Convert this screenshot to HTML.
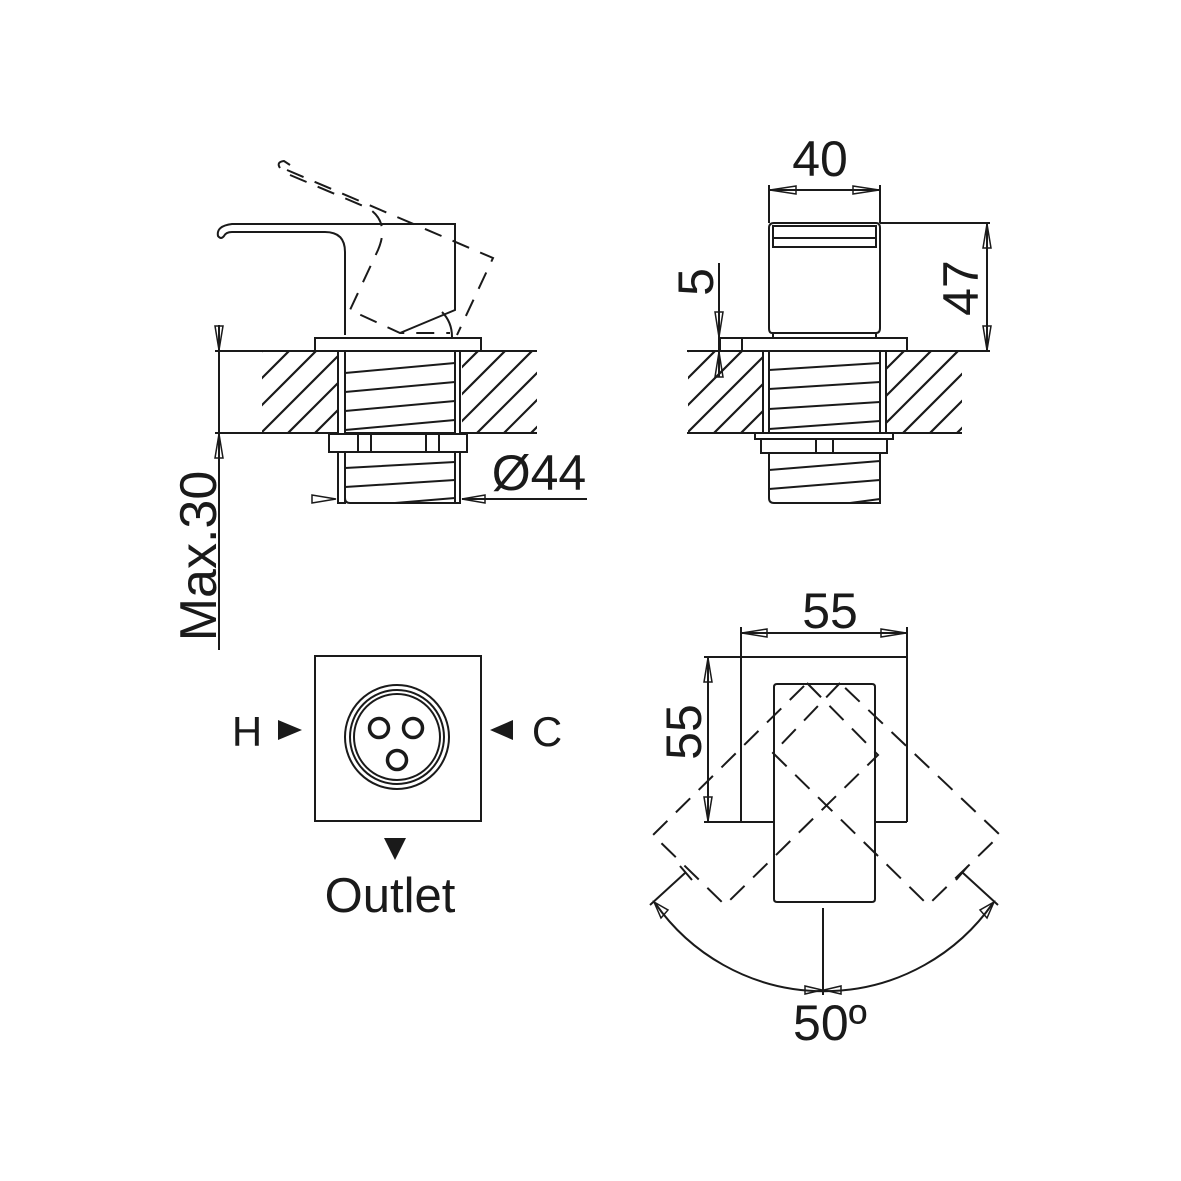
<!DOCTYPE html>
<html><head><meta charset="utf-8"><style>
html,body{margin:0;padding:0;background:#fff}
svg{display:block}
text{font-family:"Liberation Sans",sans-serif;fill:#1a1a1a}
</style></head><body>
<svg width="1181" height="1181" viewBox="0 0 1181 1181" xmlns="http://www.w3.org/2000/svg">
<defs>
<clipPath id="c1"><rect x="262" y="352" width="75" height="80"/><rect x="462" y="352" width="75" height="80"/></clipPath>
<clipPath id="c2"><rect x="688" y="352" width="75" height="80"/><rect x="887" y="352" width="75" height="80"/></clipPath>
</defs>
<g fill="none" stroke="#1a1a1a" stroke-width="2">
<!-- hatching -->
<g clip-path="url(#c1)" stroke-width="2.2">
<path d="M180 433 L262 351 M207 433 L289 351 M234 433 L316 351 M261 433 L343 351 M288 433 L370 351 M315 433 L397 351 M342 433 L424 351 M369 433 L451 351 M396 433 L478 351 M423 433 L505 351 M450 433 L532 351 M477 433 L559 351 M504 433 L586 351 M531 433 L613 351"/>
</g>
<g clip-path="url(#c2)" stroke-width="2.2">
<path d="M606 433 L688 351 M633 433 L715 351 M660 433 L742 351 M687 433 L769 351 M714 433 L796 351 M741 433 L823 351 M768 433 L850 351 M795 433 L877 351 M822 433 L904 351 M849 433 L931 351 M876 433 L958 351 M903 433 L985 351 M930 433 L1012 351 M957 433 L1039 351"/>
</g>
<!-- ===== TOP LEFT VIEW ===== -->
<line x1="215" y1="351" x2="537" y2="351"/>
<line x1="215" y1="433" x2="537" y2="433"/>
<rect x="315" y="338" width="166" height="13" fill="#fff"/>
<rect x="338" y="351" width="7" height="152" fill="#fff"/>
<rect x="455" y="351" width="5" height="152" fill="#fff"/>
<path d="M345 373 L455 363 M345 392 L455 382 M345 411 L455 401 M345 430 L455 420"/>
<rect x="329" y="434" width="138" height="18" fill="#fff"/>
<path d="M358 434 V452 M371 434 V452 M426 434 V452 M439 434 V452"/>
<path d="M345 452 V498 Q345 503 350 503 H455 M345 468 L455 462 M345 487 L455 480 M395 503 L455 498"/>
<!-- handle -->
<path d="M345 335 V252 Q345 232 325 232 H232 Q226 232 224 236 Q221 240 218 236 Q216 226 232 224 H455 V310 L400 333"/>
<!-- dashed handle -->
<g stroke-dasharray="18,12">
<path d="M287 170 L493 258 L457 335"/>
<path d="M290 175 L368 208 Q390 222 378 250 L350 310 L400 333 L450 333"/>
</g>
<path d="M280 168 Q276 162 284 161 L290 165"/>
<path d="M442 312 Q452 322 452 337"/>
<!-- Max.30 -->
<line x1="219" y1="325" x2="219" y2="650"/>
<path d="M215 326 L223 326 L219 350 Z" stroke-width="1.5"/>
<path d="M215 458 L223 458 L219 434 Z" stroke-width="1.5"/>
<!-- Ø44 -->
<line x1="462" y1="499" x2="587" y2="499"/>
<path d="M312 495 L312 503 L336 499 Z" stroke-width="1.5"/>
<path d="M485 495 L485 503 L462 499 Z" stroke-width="1.5"/>
<!-- ===== TOP RIGHT VIEW ===== -->
<line x1="687" y1="351" x2="962" y2="351"/>
<line x1="687" y1="433" x2="962" y2="433"/>
<rect x="720" y="338" width="187" height="13" fill="#fff"/>
<line x1="742" y1="338" x2="742" y2="351"/>
<rect x="763" y="351" width="6" height="82" fill="#fff"/>
<rect x="880" y="351" width="6" height="82" fill="#fff"/>
<path d="M769 370 L880 363 M769 389 L880 382 M769 409 L880 402 M769 429 L880 421"/>
<rect x="755" y="433" width="138" height="6" fill="#fff"/>
<rect x="761" y="439" width="126" height="14" fill="#fff"/>
<path d="M816 439 V453 M833 439 V453"/>
<path d="M769 453 V498 Q769 503 774 503 H880 V453 M769 470 L880 461 M769 489 L880 480 M850 503 L880 499"/>
<path d="M772 333 Q769 333 769 328 V228 Q769 223 774 223 H876 Q880 223 880 228 V328 Q880 333 876 333 Z"/>
<rect x="773" y="226" width="103" height="21"/>
<line x1="773" y1="238" x2="876" y2="238"/>
<path d="M773 333 V338 M876 333 V338"/>
<!-- 40 -->
<line x1="769" y1="185" x2="769" y2="223"/>
<line x1="880" y1="185" x2="880" y2="223"/>
<line x1="769" y1="190" x2="880" y2="190"/>
<path d="M770 190 L796 186 L796 194 Z" stroke-width="1.5"/>
<path d="M879 190 L853 186 L853 194 Z" stroke-width="1.5"/>
<!-- 47 -->
<line x1="880" y1="223" x2="990" y2="223"/>
<line x1="962" y1="351" x2="990" y2="351"/>
<line x1="987" y1="223" x2="987" y2="351"/>
<path d="M987 224 L983 248 L991 248 Z" stroke-width="1.5"/>
<path d="M987 350 L983 326 L991 326 Z" stroke-width="1.5"/>
<!-- 5 -->
<line x1="719" y1="263" x2="719" y2="377"/>
<line x1="719" y1="338" x2="742" y2="338"/>
<path d="M715 312 L723 312 L719 337 Z" stroke-width="1.5"/>
<path d="M715 377 L723 377 L719 352 Z" stroke-width="1.5"/>
<!-- ===== BOTTOM LEFT ===== -->
<rect x="315" y="656" width="166" height="165"/>
<circle cx="397" cy="737" r="52"/>
<circle cx="397" cy="737" r="47"/>
<circle cx="397" cy="737" r="43"/>
<circle cx="379" cy="728" r="9.5" stroke-width="3.5"/>
<circle cx="413" cy="728" r="9.5" stroke-width="3.5"/>
<circle cx="397" cy="760" r="9.5" stroke-width="3.5"/>
<!-- ===== BOTTOM RIGHT ===== -->
<line x1="741" y1="627" x2="741" y2="822"/>
<line x1="907" y1="627" x2="907" y2="822"/>
<line x1="741" y1="633" x2="907" y2="633"/>
<path d="M742 633 L767 629 L767 637 Z" stroke-width="1.5"/>
<path d="M906 633 L881 629 L881 637 Z" stroke-width="1.5"/>
<line x1="704" y1="657" x2="907" y2="657"/>
<path d="M704 822 H774 M875 822 H907"/>
<line x1="708" y1="657" x2="708" y2="822"/>
<path d="M708 658 L704 682 L712 682 Z" stroke-width="1.5"/>
<path d="M708 821 L704 797 L712 797 Z" stroke-width="1.5"/>
<path d="M777 684 H872 Q875 684 875 687 V899 Q875 902 872 902 H777 Q774 902 774 899 V687 Q774 684 777 684 Z"/>
<g stroke-dasharray="20,12">
<path d="M807 683 L878 755 L725 905 L653 835 Z"/>
<path d="M840 683 L773 753 L928 905 L1000 835 Z"/>
</g>
<!-- angle -->
<path d="M685 873 L650 905 M680 866 L692 880"/>
<path d="M963 873 L998 905 M956 880 L968 866"/>
<line x1="823" y1="908" x2="823" y2="995"/>
<path d="M655 903 A206 206 0 0 0 993 903"/>
<path d="M654 902 L661 918 L668 910 Z" stroke-width="1.5"/>
<path d="M994 902 L980 910 L987 918 Z" stroke-width="1.5"/>
<path d="M822 990 L805 986 L805 994 Z" stroke-width="1.5"/>
<path d="M824 990 L841 986 L841 994 Z" stroke-width="1.5"/>
</g>
<!-- filled triangles -->
<g fill="#1a1a1a">
<path d="M278 720 L302 730 L278 740 Z"/>
<path d="M513 720 L490 730 L513 740 Z"/>
<path d="M384 838 L406 838 L395 860 Z"/>
</g>
<!-- text -->
<text x="820" y="176" font-size="50" text-anchor="middle">40</text>
<text transform="translate(978,288) rotate(-90)" font-size="50" text-anchor="middle">47</text>
<text transform="translate(713,282) rotate(-90)" font-size="50" text-anchor="middle">5</text>
<text x="539" y="490" font-size="50" text-anchor="middle">Ø44</text>
<text transform="translate(216,556) rotate(-90)" font-size="52" text-anchor="middle">Max.30</text>
<text x="830" y="628" font-size="50" text-anchor="middle">55</text>
<text transform="translate(701,732) rotate(-90)" font-size="50" text-anchor="middle">55</text>
<text x="830" y="1040" font-size="50" text-anchor="middle">50º</text>
<text x="247" y="746" font-size="42" text-anchor="middle">H</text>
<text x="547" y="746" font-size="42" text-anchor="middle">C</text>
<text x="390" y="912" font-size="49" text-anchor="middle">Outlet</text>
</svg>
</body></html>
